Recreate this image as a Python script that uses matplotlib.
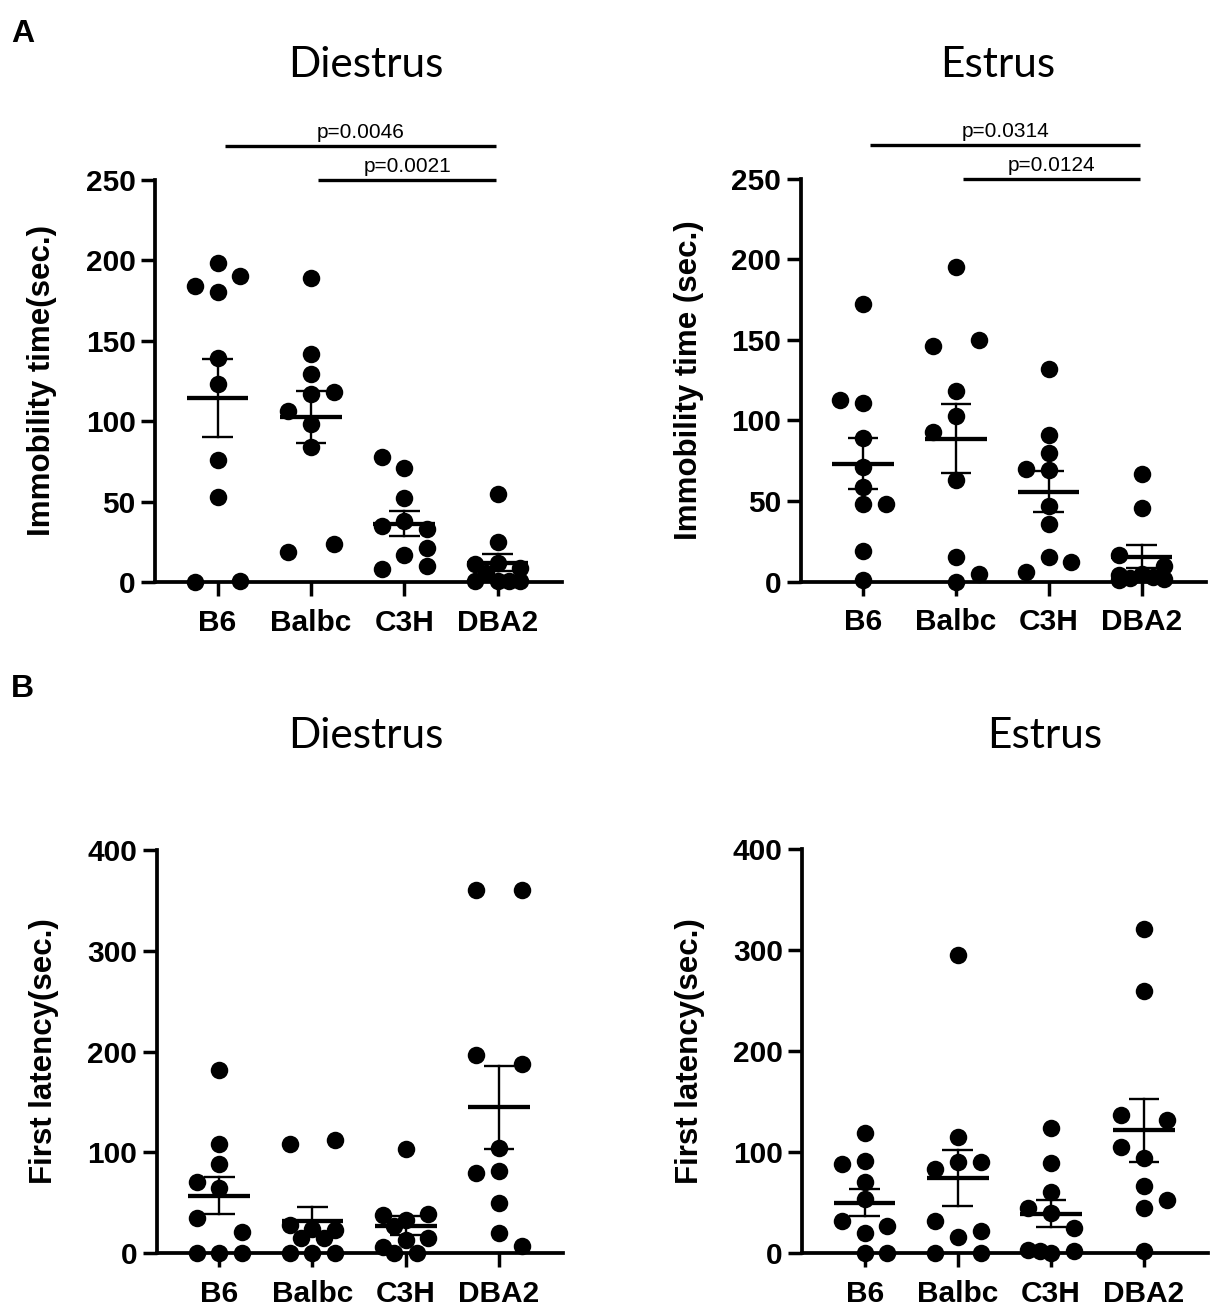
import numpy as np
import matplotlib
matplotlib.use("Agg")
import matplotlib.pyplot as plt

plt.rcParams["font.family"] = ["Liberation Sans", "DejaVu Sans"]

STRAINS = ["B6", "Balbc", "C3H", "DBA2"]

# (A) immobility time, sec.
imm_diestrus_b6    = [198, 180, 184, 190, 139, 123, 76, 53, 0, 1]
imm_diestrus_balbc = [189, 142, 129, 117, 98, 84, 106, 118, 19, 24]
imm_diestrus_c3h   = [52, 38, 35, 33, 71, 78, 17, 21, 8, 10]
imm_diestrus_dba2  = [55, 25, 12, 11, 1, 1, 1, 1, 9, 6]

imm_estrus_b6    = [172, 89, 111, 113, 71, 59, 48, 48, 19, 1]
imm_estrus_balbc = [195, 118, 146, 150, 103, 93, 63, 15, 0, 5]
imm_estrus_c3h   = [132, 91, 80, 69, 70, 47, 36, 15, 12, 6]
imm_estrus_dba2  = [67, 45.5, 16.5, 9.5, 5, 4, 3, 2, 1.5, 1]

# (B) first latency, sec.
lat_diestrus_b6    = [182, 108, 89, 65, 71, 21, 35, 0, 0, 0]
lat_diestrus_balbc = [108, 112, 28, 23, 24, 15, 15, 0, 0, 0]
lat_diestrus_c3h   = [103, 38, 39, 33, 27, 15, 13, 6, 0, 0]
lat_diestrus_dba2  = [360, 360, 197, 188, 104, 82, 80, 50, 20, 7]

lat_estrus_b6    = [119, 91, 88, 71, 54, 20, 27, 32, 0, 0]
lat_estrus_balbc = [295, 115, 90, 83, 90, 32, 22, 16, 0, 0]
lat_estrus_c3h   = [124, 89, 61, 45, 40, 25, 0, 3, 2, 2]
lat_estrus_dba2  = [321, 260, 137, 132, 94, 105, 67, 45, 53, 2]

# significance bars: (group i, group j, label)
sig_diestrus = [(0, 3, "p=0.0046"), (1, 3, "p=0.0021")]
sig_estrus   = [(0, 3, "p=0.0314"), (1, 3, "p=0.0124")]

FIG_W, FIG_H, DPI = 12.16, 13.10, 100
XLIM = (-0.67, 3.69)


def swarm(values, px_per_y, diam=17.0, step=22.7, iso=40.0):
    """Greedy GraphPad-like dot placement, returns x offsets in px."""
    placed = []
    side = -1
    for v in values:
        y = v * px_per_y

        def clear(x):
            return min((np.hypot(x - p[0], y - p[1]) for p in placed), default=np.inf)

        if clear(0.0) >= diam:
            placed.append([0.0, y])
            continue
        hits = [p for p in placed if np.hypot(p[0], y - p[1]) < diam]
        if len(hits) == 1 and hits[0][0] == 0.0:
            p = hits[0]
            near = [q for q in placed if q is not p and abs(q[1] - p[1]) < iso]
            if not near:
                # lone pair -> spread symmetrically
                p[0] = side * step
                placed.append([-side * step, y])
                continue
        cands = [side, -side, side / 2, -side / 2]
        pick = None
        for c in cands:
            if clear(c * step) >= diam:
                pick = c
                break
        if pick is None:
            pick = max(cands, key=lambda c: clear(c * step))
        placed.append([pick * step, y])
        side = -1 if pick > 0 else 1
    return np.array([p[0] for p in placed])


def panel(fig, rect, groups, ymax, yticks, ylabel, sigs=()):
    ax = fig.add_axes(rect)
    ax.set_xlim(*XLIM)
    ax.set_ylim(0, ymax)
    ax_w = rect[2] * FIG_W * DPI
    ax_h = rect[3] * FIG_H * DPI
    px_x = ax_w / (XLIM[1] - XLIM[0])
    px_y = ax_h / ymax

    for i, vals in enumerate(groups):
        vals = np.asarray(vals, dtype=float)
        dx = swarm(vals, px_y) / px_x
        ax.plot(i + dx, vals, "o", color="black", ms=12.6, mec="none",
                clip_on=False, zorder=3)
        m = vals.mean()
        se = vals.std(ddof=1) / np.sqrt(len(vals))
        ax.plot([i - 0.33, i + 0.33], [m, m], color="black", lw=3.1, zorder=4,
                solid_capstyle="butt")
        ax.plot([i, i], [m - se, m + se], color="black", lw=1.7, zorder=4)
        for yy in (m - se, m + se):
            ax.plot([i - 0.165, i + 0.165], [yy, yy], color="black", lw=1.7,
                    zorder=4, solid_capstyle="butt")

    # comparison bars stacked above the axis top, 34 px apart
    for k, (a, b, txt) in enumerate(sigs):
        yb = ymax + (len(sigs) - 1 - k) * 34.0 / px_y
        x0, x1 = a + 0.08, b - 0.02
        ax.plot([x0, x1], [yb, yb], color="black", lw=2.4,
                clip_on=False, solid_capstyle="butt")
        ax.annotate(txt, xy=((x0 + x1) / 2, yb), xytext=(0, 2.5),
                    textcoords="offset points", ha="center", va="bottom",
                    fontsize=15, annotation_clip=False)

    for s in ("top", "right"):
        ax.spines[s].set_visible(False)
    for s in ("left", "bottom"):
        ax.spines[s].set_linewidth(2.7)
    ax.set_xticks(range(len(STRAINS)))
    ax.set_xticklabels(STRAINS, fontsize=21.5, fontweight="bold")
    ax.set_yticks(yticks)
    ax.set_yticklabels([str(t) for t in yticks], fontsize=21.5, fontweight="bold")
    ax.tick_params(axis="both", direction="out", length=10, width=2.5)
    ax.tick_params(axis="x", pad=9)
    ax.tick_params(axis="y", pad=4)
    ax.set_ylabel(ylabel, fontsize=22.5, fontweight="bold")
    ax.yaxis.set_label_coords(-0.24, 0.5)
    return ax


fig = plt.figure(figsize=(FIG_W, FIG_H), dpi=DPI)

panel(fig, [0.1275, 0.5556, 0.3347, 0.3073],
      [imm_diestrus_b6, imm_diestrus_balbc, imm_diestrus_c3h, imm_diestrus_dba2],
      250, [0, 50, 100, 150, 200, 250], "Immobility time(sec.)", sig_diestrus)
panel(fig, [0.6585, 0.5560, 0.3331, 0.3076],
      [imm_estrus_b6, imm_estrus_balbc, imm_estrus_c3h, imm_estrus_dba2],
      250, [0, 50, 100, 150, 200, 250], "Immobility time (sec.)", sig_estrus)
panel(fig, [0.1289, 0.0433, 0.3344, 0.3079],
      [lat_diestrus_b6, lat_diestrus_balbc, lat_diestrus_c3h, lat_diestrus_dba2],
      400, [0, 100, 200, 300, 400], "First latency(sec.)")
panel(fig, [0.6598, 0.0433, 0.3339, 0.3084],
      [lat_estrus_b6, lat_estrus_balbc, lat_estrus_c3h, lat_estrus_dba2],
      400, [0, 100, 200, 300, 400], "First latency(sec.)")

# titles and panel letters
title_kw = dict(ha="center", va="baseline", fontsize=30.5, family=["Lato", "DejaVu Sans"])
fig.text(366 / 1216, 1 - 77 / 1310, "Diestrus", **title_kw)
fig.text(998 / 1216, 1 - 77 / 1310, "Estrus", **title_kw)
fig.text(366 / 1216, 1 - 748 / 1310, "Diestrus", **title_kw)
fig.text(1045 / 1216, 1 - 748 / 1310, "Estrus", **title_kw)

fig.text(11 / 1216, 1 - 42 / 1310, "A", fontsize=23, fontweight="bold", va="baseline")
fig.text(11 / 1216, 1 - 697 / 1310, "B", fontsize=23, fontweight="bold", va="baseline")

fig.savefig("out.png", dpi=DPI, facecolor="white")
